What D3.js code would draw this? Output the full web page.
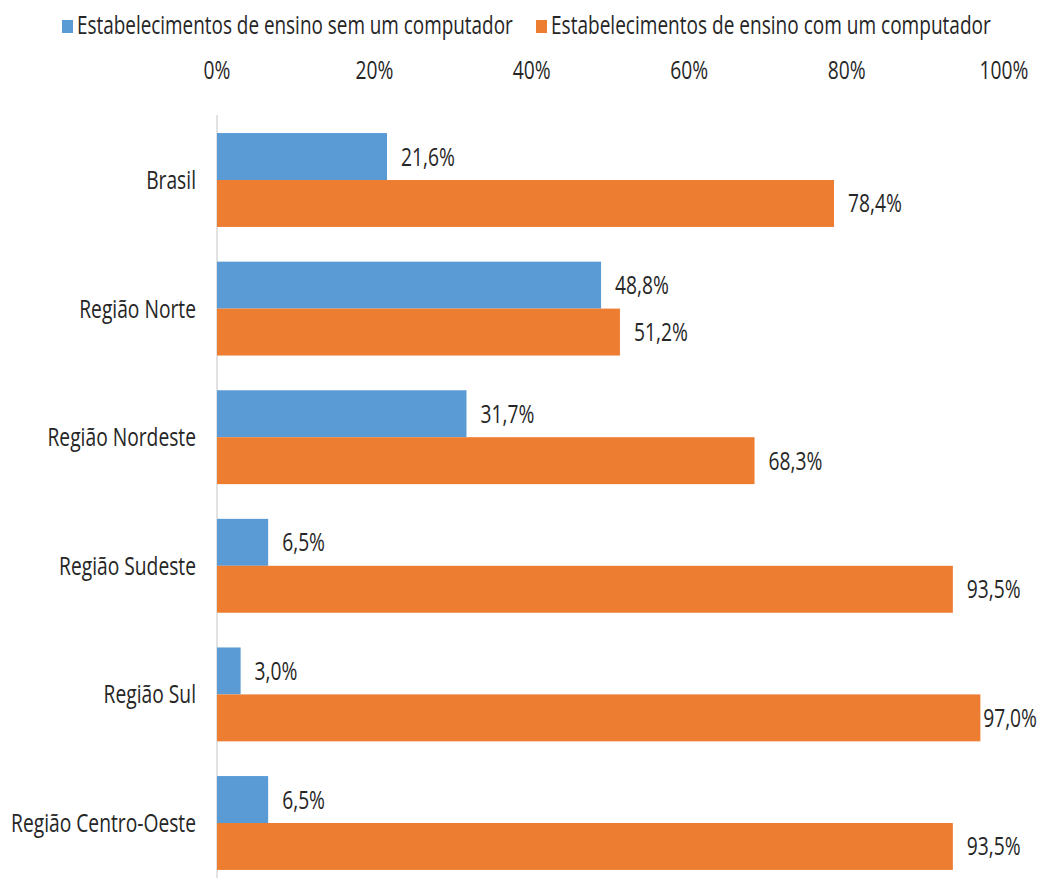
<!DOCTYPE html>
<html>
<head>
<meta charset="utf-8">
<script src="https://cdn.jsdelivr.net/npm/d3@7"></script>
<style>
  html, body { margin: 0; padding: 0; background: #fff; }
  svg text { font-family: "Open Sans", "Noto Sans", sans-serif; fill: #262626; }
</style>
</head>
<body>
<svg id="chart" width="1040" height="878"></svg>
<script>
// ---- data ----
const categories = ["Brasil", "Região Norte", "Região Nordeste", "Região Sudeste", "Região Sul", "Região Centro-Oeste"];
const seriesNames = ["Estabelecimentos de ensino sem um computador", "Estabelecimentos de ensino com um computador"];
const semComputador = [21.6, 48.8, 31.7, 6.5, 3.0, 6.5];
const comComputador = [78.4, 51.2, 68.3, 93.5, 97.0, 93.5];
const tickValues = [0, 20, 40, 60, 80, 100];
const colors = ["#5B9BD5", "#ED7D31"];

// ---- layout ----
const W = 1040, H = 878;
const FS = 26, SX = 0.74;
const svg = d3.select("#chart");

const x = d3.scaleLinear().domain([0, 100]).range([217, 1004]);
const y = d3.scaleBand().domain(categories).range([115.7, 115.7 + 128.6 * 6]).paddingInner(0.27).paddingOuter(0.135);
const ySub = d3.scaleBand().domain([0, 1]).range([0, y.bandwidth()]);

const fmt = v => d3.format(".1f")(v).replace(".", ",") + "%";

function addText(g, tx, ty, str, anchor, sx) {
  return g.append("text")
    .attr("transform", `translate(${tx},${ty}) scale(${sx || SX},1)`)
    .attr("text-anchor", anchor || "start")
    .attr("font-size", FS)
    .text(str);
}

// legend
const legendX = [62, 536];
const legendLen = [436, 440];
seriesNames.forEach((name, i) => {
  svg.append("rect").attr("x", legendX[i]).attr("y", 20).attr("width", 11).attr("height", 13).attr("fill", colors[i]);
  const t = addText(svg, legendX[i] + 15, 34, name, "start", 1);
  const nat = t.node().getComputedTextLength();
  t.attr("transform", `translate(${legendX[i] + 15},34) scale(${legendLen[i] / nat},1)`);
});

// top axis labels
const axisG = svg.append("g");
tickValues.forEach(t => {
  addText(axisG, x(t), 79, t + "%", "middle");
});

// vertical axis line
svg.append("line")
  .attr("x1", x(0)).attr("x2", x(0))
  .attr("y1", 115).attr("y2", H)
  .attr("stroke", "#d9d9d9").attr("stroke-width", 1.5);

// category labels
categories.forEach(c => {
  addText(svg, 196, y(c) + y.bandwidth() / 2 + 9, c, "end");
});

// bars
const series = [semComputador, comComputador];
series.forEach((vals, si) => {
  const g = svg.append("g");
  g.selectAll("rect").data(categories).join("rect")
    .attr("x", x(0))
    .attr("y", (c) => y(c) + ySub(si))
    .attr("width", (c, i) => x(vals[i]) - x(0))
    .attr("height", ySub.bandwidth())
    .attr("fill", colors[si]);
  categories.forEach((c, i) => {
    const t = addText(g, 0, 0, fmt(vals[i]), "start");
    const w = t.node().getComputedTextLength() * SX;
    const lx = Math.min(x(vals[i]) + 14, W - 3 - w);
    t.attr("transform", `translate(${lx},${y(c) + ySub(si) + ySub.bandwidth() / 2 + 9}) scale(${SX},1)`);
  });
});
</script>
</body>
</html>
